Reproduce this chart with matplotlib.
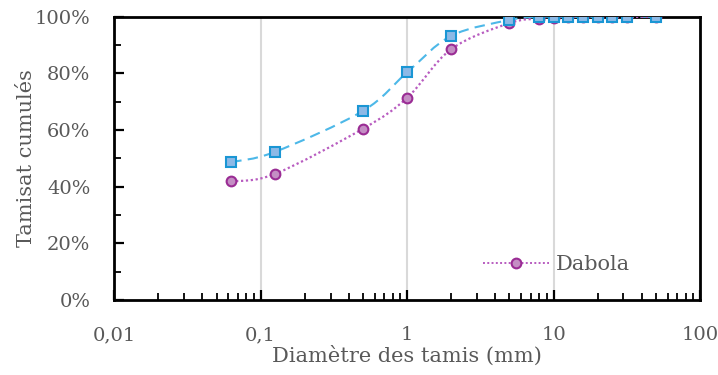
import numpy as np
import matplotlib
matplotlib.use("Agg")
import matplotlib.pyplot as plt
from matplotlib.path import Path
from matplotlib.patches import PathPatch
from matplotlib.ticker import FixedLocator, NullFormatter, PercentFormatter

# sieve openings (mm) and cumulative passing (%)
tamis = [0.063, 0.125, 0.5, 1, 2, 5, 8, 10, 12.5, 16, 20, 25, 31.5, 50]
serie_bleue = [48.7, 52.3, 66.8, 80.4, 93.3, 98.9, 100, 100, 100, 100, 100, 100, 100, 100]
dabola = [41.9, 44.5, 60.5, 71.4, 88.6, 97.8, 99.4, 99.5, 99.9, 100, 100, 100, 100, 100]

x_ticks = [0.01, 0.1, 1, 10, 100]
x_labels = ["0,01", "0,1", "1", "10", "100"]

plt.rcParams['font.family'] = ['DejaVu Serif']
gris = '#595959'


def smooth_path(xs, ys):
    # Excel-like smoothed line: cubic bezier through points, built in log-x space
    lx = np.log10(xs)
    ys = np.asarray(ys, float)
    n = len(lx)
    verts = [(xs[0], ys[0])]
    codes = [Path.MOVETO]
    for i in range(n - 1):
        p0 = (lx[max(i - 1, 0)], ys[max(i - 1, 0)])
        p1 = (lx[i], ys[i])
        p2 = (lx[i + 1], ys[i + 1])
        p3 = (lx[min(i + 2, n - 1)], ys[min(i + 2, n - 1)])
        c1 = (p1[0] + (p2[0] - p0[0]) / 6, p1[1] + (p2[1] - p0[1]) / 6)
        c2 = (p2[0] - (p3[0] - p1[0]) / 6, p2[1] - (p3[1] - p1[1]) / 6)
        for c in (c1, c2, p2):
            verts.append((10 ** c[0], c[1]))
            codes.append(Path.CURVE4)
    return Path(verts, codes)


fig = plt.figure(figsize=(7.18, 3.75), dpi=100)
ax = fig.add_axes([0.159, 0.2, 0.816, 0.755])
ax.set_xscale('log')
ax.set_xlim(0.01, 100)
ax.set_ylim(0, 100)

ax.add_patch(PathPatch(smooth_path(tamis, serie_bleue), fill=False, edgecolor='#4DB8E8',
                       lw=1.5, linestyle=(0, (5, 3)), zorder=3))
ax.plot(tamis, serie_bleue, linestyle='none', marker='s', ms=6.5, mfc='#8DB9E6',
        mec='#1A96D4', mew=1.5, zorder=5)

ax.add_patch(PathPatch(smooth_path(tamis, dabola), fill=False, edgecolor='#B85CC0',
                       lw=1.6, linestyle=(0, (1, 1.2)), zorder=3))
ax.plot(tamis, dabola, linestyle='none', marker='o', ms=7, mfc='#C48EC4',
        mec='#9A2C94', mew=1.5, zorder=4)

leg_line, = ax.plot([], [], color='#B85CC0', lw=1.4, linestyle=(0, (1, 1.2)),
                    marker='o', ms=7, mfc='#C48EC4', mec='#9A2C94', mew=1.5)
ax.legend([leg_line], ['Dabola'], loc='lower right', bbox_to_anchor=(0.912, 0.025),
          frameon=False, fontsize=15, labelcolor=gris, handlelength=3.2, handletextpad=0.3)

for v in [0.1, 1, 10]:
    ax.axvline(v, color='#D9D9D9', lw=1.5, zorder=1)

ax.set_xticks(x_ticks)
ax.set_xticklabels(x_labels)
ax.xaxis.set_minor_locator(FixedLocator([m * d for d in [0.01, 0.1, 1, 10] for m in range(2, 10)]))
ax.xaxis.set_minor_formatter(NullFormatter())
ax.set_yticks(np.arange(0, 101, 20))
ax.set_yticks(np.arange(10, 100, 20), minor=True)
ax.yaxis.set_major_formatter(PercentFormatter(decimals=0))

ax.tick_params(which='major', direction='in', length=7, width=1.6, colors='black',
               labelcolor=gris, labelsize=14)
ax.tick_params(which='minor', direction='in', length=5, width=1.3, colors='black')
ax.tick_params(axis='x', which='major', pad=19)
ax.tick_params(axis='y', which='major', pad=17)

for s in ax.spines.values():
    s.set_linewidth(2)
    s.set_color('black')

ax.set_xlabel('Diamètre des tamis (mm)', fontsize=15, color=gris, labelpad=1)
ax.set_ylabel('Tamisat cumulés', fontsize=15, color=gris, labelpad=-1)

fig.savefig('out.png', dpi=100)
